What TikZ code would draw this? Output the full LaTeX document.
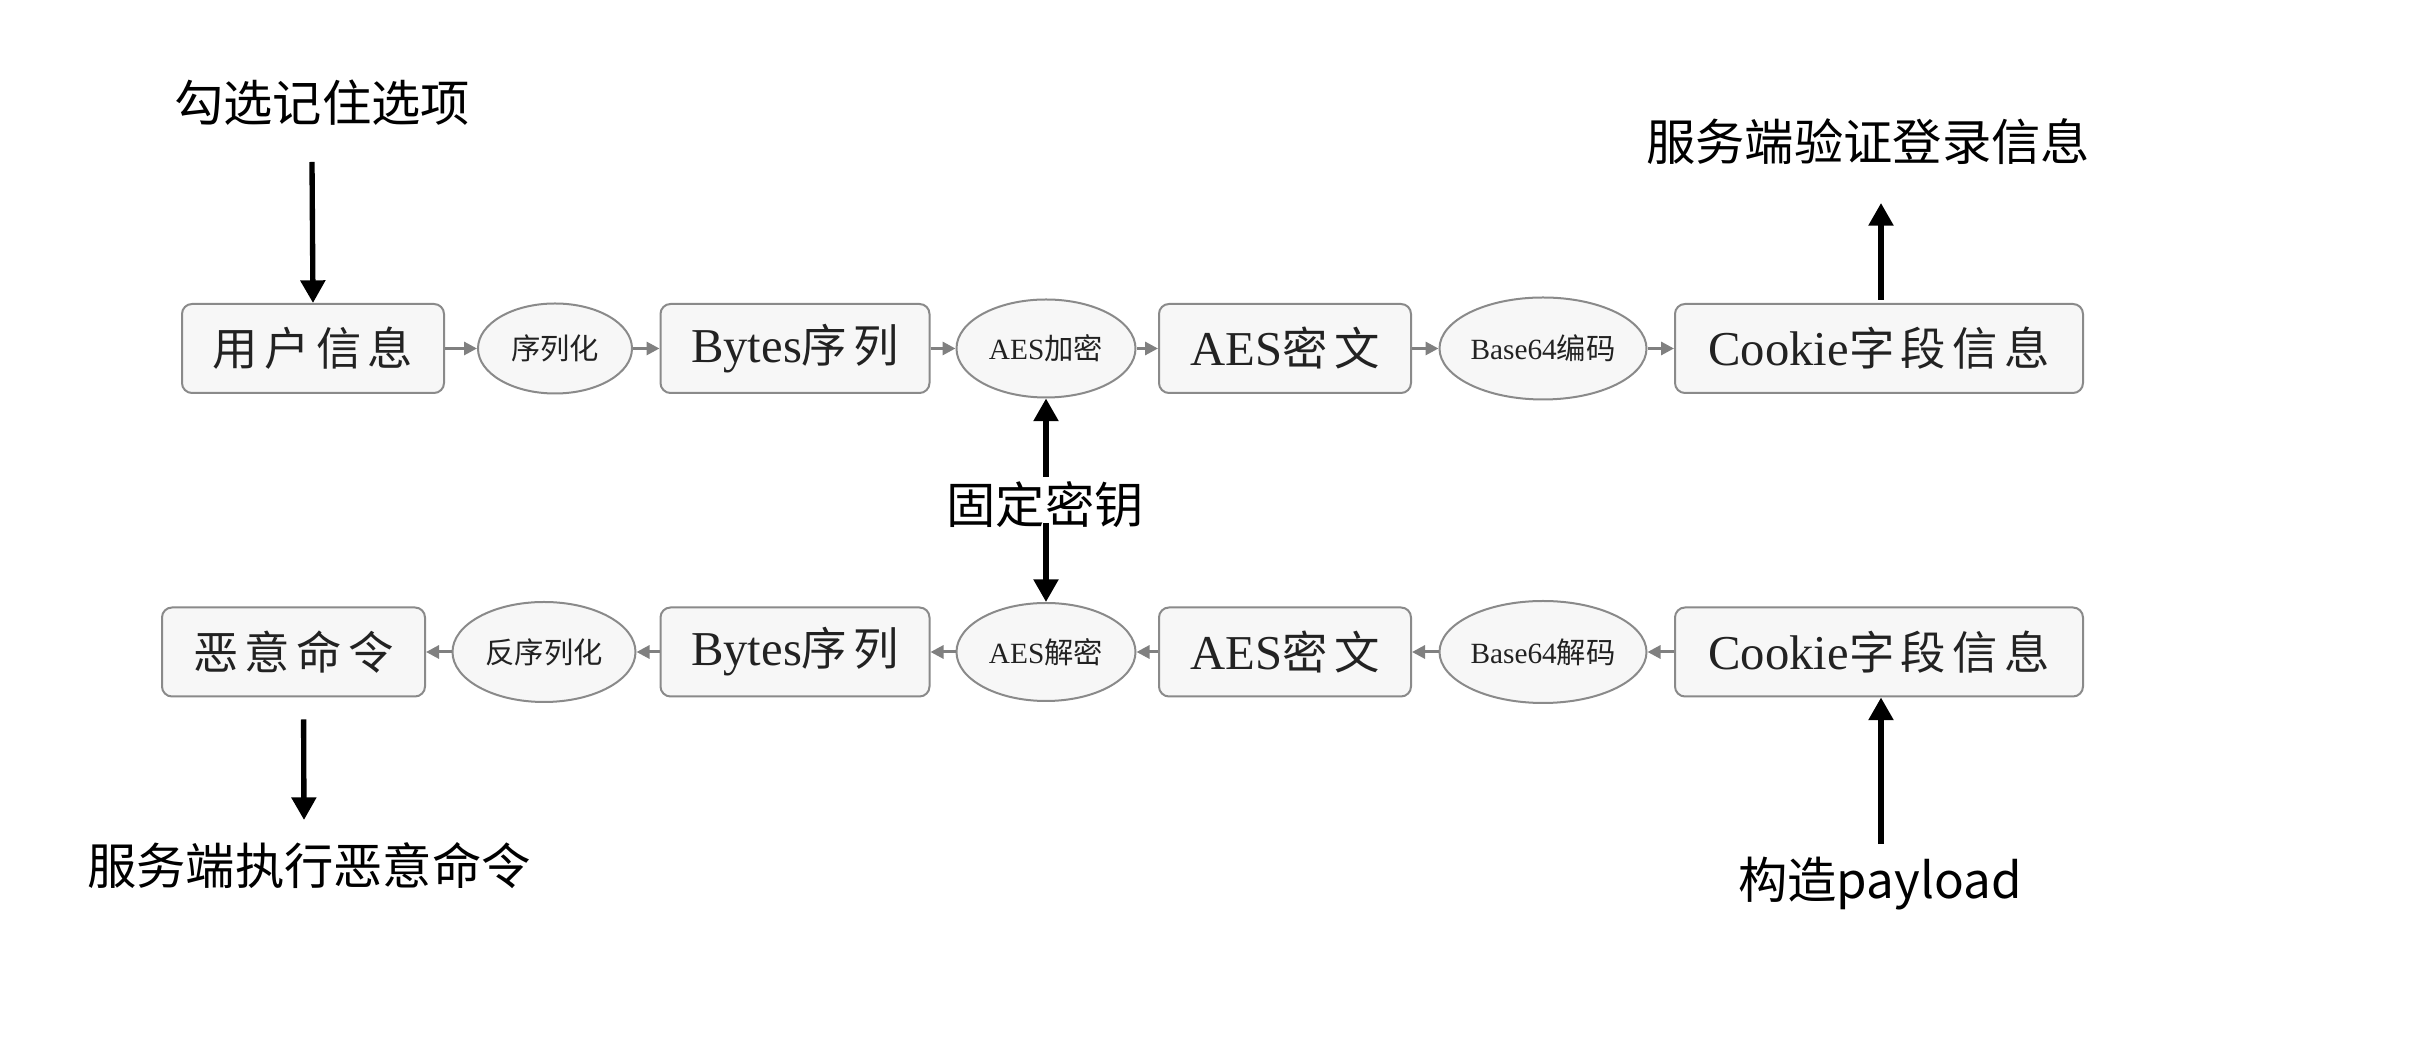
\documentclass[tikz,border=0pt]{standalone}
\usepackage{fontspec}
\setmainfont{Liberation Serif}
\newfontfamily\cjk{Noto Sans CJK SC}
\newfontfamily\cjkbox[LetterSpace=14]{Noto Sans CJK SC}
\usetikzlibrary{arrows.meta,shapes.geometric}
\definecolor{boxfill}{HTML}{F7F7F7}
\definecolor{boxline}{HTML}{8A8A8A}
\definecolor{conn}{HTML}{808080}
\definecolor{txt}{HTML}{222222}
\newcommand\boxcjk{\cjkbox\fontsize{13.6pt}{16pt}\selectfont}
\tikzset{
  stepbox/.style={draw=boxline, fill=boxfill, line width=0.6pt, rounded corners=3pt,
    minimum height=26.7pt, inner sep=0pt, text=txt, font=\fontsize{14.6pt}{16pt}\selectfont},
  oval/.style={ellipse, draw=boxline, fill=boxfill, line width=0.6pt, inner sep=0pt,
    text=txt, font=\fontsize{8.8pt}{10pt}\selectfont},
  flow/.style={draw=conn, line width=0.9pt, -{Triangle[length=3.9pt,width=3.9pt]}},
  bigarr/.style={draw=black, line width=1.6pt, -{Triangle[length=6.8pt,width=7.2pt]}},
  lbl/.style={inner sep=0pt, text=black, font=\cjk\fontsize{14.8pt}{17pt}\selectfont},
}
\begin{document}
\begin{tikzpicture}[x=0.3pt, y=-0.3pt]
\useasboundingbox[fill=white] (0,0) rectangle (2418,1043);
% top row
\node[stepbox, minimum width=78.6pt] (u1) at (313,348.5) {\boxcjk 用户信息};
\node[oval, minimum width=46.2pt, minimum height=27pt] (e1) at (555,348.5) {\cjk 序列化};
\node[stepbox, minimum width=80.7pt] (b1) at (795,348.5) {Bytes{\boxcjk 序列}};
\node[oval, minimum width=53.7pt, minimum height=29.4pt] (e2) at (1046,348.5) {AES{\cjk 加密}};
\node[stepbox, minimum width=75.6pt] (b2) at (1285,348.5) {AES{\boxcjk 密文}};
\node[oval, minimum width=62.1pt, minimum height=30.6pt] (e3) at (1543,348.5) {Base64{\cjk 编码}};
\node[stepbox, minimum width=122.4pt] (b3) at (1879,348.5) {Cookie{\boxcjk 字段信息}};
% bottom row
\node[stepbox, minimum width=78.9pt] (m1) at (293.5,652) {\boxcjk 恶意命令};
\node[oval, minimum width=54.9pt, minimum height=30pt] (f1) at (544,652) {\cjk 反序列化};
\node[stepbox, minimum width=80.7pt] (b4) at (795,652) {Bytes{\boxcjk 序列}};
\node[oval, minimum width=53.7pt, minimum height=29.4pt] (e4) at (1046,652) {AES{\cjk 解密}};
\node[stepbox, minimum width=75.6pt] (b5) at (1285,652) {AES{\boxcjk 密文}};
\node[oval, minimum width=62.1pt, minimum height=30.6pt] (e5) at (1543,652) {Base64{\cjk 解码}};
\node[stepbox, minimum width=122.4pt] (b6) at (1879,652) {Cookie{\boxcjk 字段信息}};
% flow connectors
\draw[flow] (u1) -- (e1);
\draw[flow] (e1) -- (b1);
\draw[flow] (b1) -- (e2);
\draw[flow] (e2) -- (b2);
\draw[flow] (b2) -- (e3);
\draw[flow] (e3) -- (b3);
\draw[flow] (b6) -- (e5);
\draw[flow] (e5) -- (b5);
\draw[flow] (b5) -- (e4);
\draw[flow] (e4) -- (b4);
\draw[flow] (b4) -- (f1);
\draw[flow] (f1) -- (m1);
% labels
\node[lbl] (t1) at (322,103) {勾选记住选项};
\node[lbl] (t2) at (1868,142) {服务端验证登录信息};
\node[lbl] (key) at (1045,505) {固定密钥};
\node[lbl] (t3) at (309,866) {服务端执行恶意命令};
\node[lbl] (t4) at (1880,884) {构造payload};
% big arrows
\coordinate (c1) at (312,162);
\draw[bigarr] (c1) -- (u1.north);
\coordinate (c2) at ([xshift=0.6pt,yshift=30pt]b3.north);
\draw[bigarr] ([xshift=0.6pt,yshift=1pt]b3.north) -- (c2);
\coordinate (c3) at (1046,477);
\draw[bigarr] (c3) -- (e2.south);
\coordinate (c4) at (1046,523);
\draw[bigarr] (c4) -- (e4.north);
\coordinate (c5) at ([xshift=0.6pt,yshift=-44pt]b6.south);
\draw[bigarr] (c5) -- ([xshift=0.6pt]b6.south);
\coordinate (c6) at (304,820);
\draw[bigarr, shorten <=6.6pt] ([xshift=3pt]m1.south) -- (c6);
\end{tikzpicture}
\end{document}
